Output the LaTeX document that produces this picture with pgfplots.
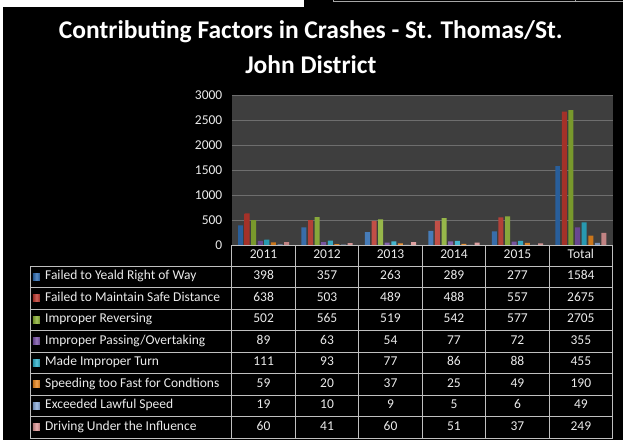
\documentclass[border=0pt]{standalone}
\usepackage{pgfplots}
\pgfplotsset{compat=1.18}
\usepackage{pgfplotstable}
\usepackage{fontspec}
\setmainfont{Carlito}
\definecolor{plotbg}{HTML}{3E3E3E}
\definecolor{gridc}{HTML}{6E6E6E}
\definecolor{linec}{HTML}{BFBFBF}
\definecolor{c1}{HTML}{2F6EB5}
\definecolor{c2}{HTML}{C0392F}
\definecolor{c3}{HTML}{8DB333}
\definecolor{c4}{HTML}{7A52AA}
\definecolor{c5}{HTML}{2EB3CF}
\definecolor{c6}{HTML}{EE8A1F}
\definecolor{c7}{HTML}{8DAEDD}
\definecolor{c8}{HTML}{E39A9A}

\pgfplotstableread{
x s1 s2 s3 s4 s5 s6 s7 s8
0 398 638 502 89 111 59 19 60
1 357 503 565 63 93 20 10 41
2 263 489 519 54 77 37 9 60
3 289 488 542 77 86 25 5 51
4 277 557 577 72 88 49 6 37
5 1584 2675 2705 355 455 190 49 249
}\datatable

\tikzset{barsh/.style={draw=none, left color=#1!85!black, right color=#1!85!black, middle color=#1!85!white}}

\begin{document}
\begin{tikzpicture}[x=1pt,y=1pt]
\fill[black] (0,0) rectangle (623,440);
\fill[white] (0,433) rectangle (304,440);
\fill[white] (0,0) rectangle (3,440);
\draw[gray!70, line width=0.8pt] (334,440) -- (334,439.3) -- (623,439.3);
\draw[gray!70, line width=0.8pt] (576,440) -- (576,439.3);

\node[text=white, align=center, font=\fontsize{25.5}{35}\selectfont\bfseries] at (311,393)
  {Contributing Factors in Crashes - St. Thomas/St.\\John District};

\begin{axis}[
  at={(232pt,195pt)}, anchor=south west,
  scale only axis, width=381pt, height=150pt,
  xmin=-0.5, xmax=5.5, ymin=0, ymax=3000,
  ytick={0,500,...,3000}, xtick=\empty,
  ymajorgrids, grid style={gridc, line width=0.8pt},
  axis background/.style={fill=plotbg},
  axis line style={draw=none},
  major tick length=0pt,
  yticklabel style={text=white!92!black, font=\fontsize{13.5}{13.5}\selectfont, xshift=-6pt,
    /pgf/number format/assume math mode=true, /pgf/number format/1000 sep={}},
  ybar=1.6pt, bar width=5pt,
  clip=false,
]
\addplot[barsh=c1] table[x=x,y=s1]{\datatable};
\addplot[barsh=c2] table[x=x,y=s2]{\datatable};
\addplot[barsh=c3] table[x=x,y=s3]{\datatable};
\addplot[barsh=c4] table[x=x,y=s4]{\datatable};
\addplot[barsh=c5] table[x=x,y=s5]{\datatable};
\addplot[barsh=c6] table[x=x,y=s6]{\datatable};
\addplot[barsh=c7] table[x=x,y=s7]{\datatable};
\addplot[barsh=c8] table[x=x,y=s8]{\datatable};
\end{axis}

% data table
\foreach \i in {0,...,8}{
  \draw[linec, line width=0.8pt] (30,{174-21.5*\i}) -- (613,{174-21.5*\i});
}
\draw[linec, line width=0.8pt] (232,195) -- (613,195);
\draw[linec, line width=0.8pt] (30,174) -- (30,2);
\foreach \j in {0,...,6}{
  \draw[linec, line width=0.8pt] ({232+63.5*\j},195) -- ({232+63.5*\j},2);
}
\tikzset{cell/.style={text=white!92!black, font=\fontsize{13.5}{13.5}\selectfont, text height=1.55ex, text depth=0.3ex, inner sep=0pt}}
\foreach \lab [count=\j from 0] in {2011,2012,2013,2014,2015,Total}{
  \node[cell] at ({232+63.5*\j+31.75},184.5) {\lab};
}
\foreach \lab/\col [count=\i from 0] in {
  {Failed to Yeald Right of Way}/c1,
  {Failed to Maintain Safe Distance}/c2,
  {Improper Reversing}/c3,
  {Improper Passing/Overtaking}/c4,
  {Made Improper Turn}/c5,
  {Speeding too Fast for Condtions}/c6,
  {Exceeded Lawful Speed}/c7,
  {Driving Under the Influence}/c8}{
  \shade[left color=\col!80!black, right color=\col!80!black, middle color=\col!80!white] (33,{174-21.5*\i-10.75-3.5}) rectangle (40,{174-21.5*\i-10.75+3.5});
  \node[cell, anchor=west] at (45,{174-21.5*\i-10.75}) {\lab};
}
\foreach \r in {0,...,5}{
  \foreach \s in {1,...,8}{
    \edef\colname{s\s}
    \pgfplotstablegetelem{\r}{\colname}\of\datatable
    \node[cell] at ({232+63.5*\r+31.75},{174-21.5*(\s-1)-10.75}) {\pgfplotsretval};
  }
}
\end{tikzpicture}
\end{document}
